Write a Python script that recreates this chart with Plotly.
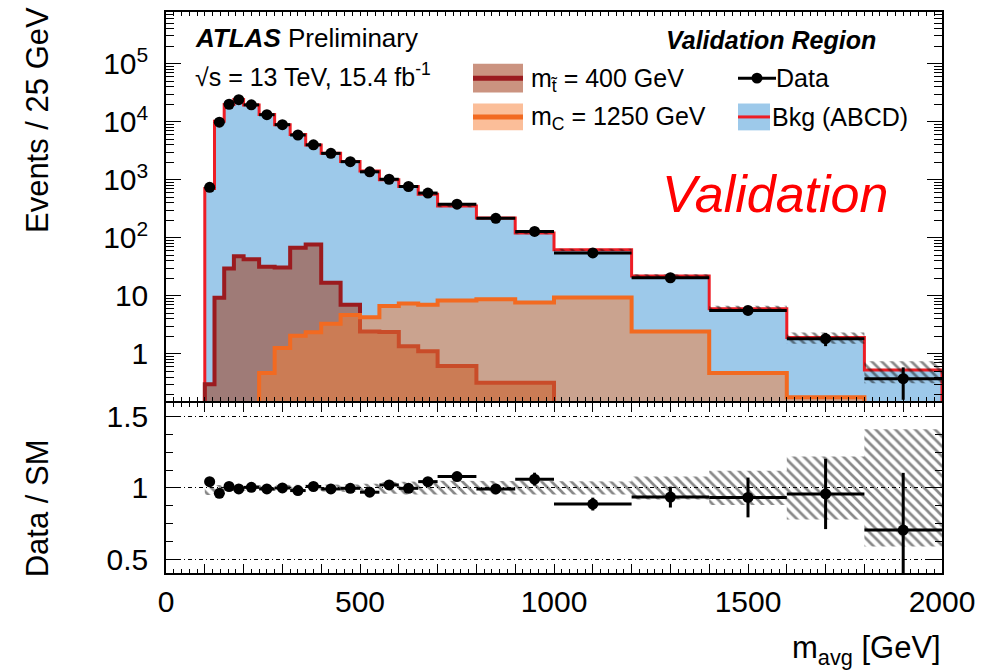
import plotly.graph_objects as go

# ---------------- data ----------------
bin_edges = [100, 125, 150, 175, 200, 240, 280, 320, 360, 400, 450, 500, 550,
             600, 650, 700, 800, 900, 1000, 1200, 1400, 1600, 1800, 2000]
data_vals = [740, 9800, 20000, 24000, 19500, 13200, 8900, 5900, 4000, 2850,
             2050, 1370, 1020, 765, 590, 380, 217, 129, 55, 20.5, 5.6, 1.83, 0.374]
bkg_vals = [709, 10180, 19800, 24170, 19420, 13290, 8900, 6010, 3960, 2870,
            2055, 1412, 999, 767, 565, 352, 218.5, 121.5, 62, 21.9, 6.0, 1.91, 0.53]
ratio_stat_err = [0.03, 0.01, 0.01, 0.01, 0.01, 0.01, 0.01, 0.012, 0.015, 0.015,
                  0.02, 0.02, 0.02, 0.025, 0.03, 0.025, 0.035, 0.045, 0.045,
                  0.073, 0.139, 0.246, 0.40]
bkg_rel_unc = [0.05, 0.02, 0.02, 0.02, 0.02, 0.02, 0.02, 0.02, 0.02, 0.025,
               0.025, 0.03, 0.04, 0.045, 0.05, 0.045, 0.045, 0.05, 0.045,
               0.08, 0.12, 0.22, 0.41]
stop400_vals = [0.30, 9.3, 29.5, 48, 42.7, 31.6, 30.7, 67.5, 77, 16.8, 7.0,
                2.44, 2.38, 1.35, 1.11, 0.62, 0.32, 0.32, 0, 0, 0, 0, 0]
mc1250_vals = [0, 0, 0, 0, 0, 0.47, 1.27, 2.06, 2.35, 3.3, 4.7, 4.3, 6.7, 7.4,
               7.0, 8.3, 8.7, 7.7, 9.4, 2.44, 0.47, 0.18, 0]

x_tick_labels = ["0", "500", "1000", "1500", "2000"]
x_tick_values = [0, 500, 1000, 1500, 2000]
y_tick_values = [1, 10, 100, 1000, 10000, 100000]
y_tick_labels = ["1", "10", "10<sup>2</sup>", "10<sup>3</sup>", "10<sup>4</sup>", "10<sup>5</sup>"]
ratio_tick_values = [0.5, 1, 1.5]
ratio_tick_labels = ["0.5", "1", "1.5"]

# ---------------- geometry helpers (layout only) ----------------
L, R, T, B = 166, 942, 9, 573
FONT = "Liberation Sans, Arial, sans-serif"
FLOOR = 1e-3


def fx(px):
    return (px - L) / (R - L)


def fy(py):
    return (B - py) / (B - T)


n = len(data_vals)
centers = [(bin_edges[i] + bin_edges[i + 1]) / 2 for i in range(n)]
halfw = [(bin_edges[i + 1] - bin_edges[i]) / 2 for i in range(n)]
ratio_vals = [d / b for d, b in zip(data_vals, bkg_vals)]
data_err = [b * e for b, e in zip(bkg_vals, ratio_stat_err)]


def hist_poly(vals):
    xs, ys = [bin_edges[0]], [FLOOR]
    for i, v in enumerate(vals):
        vv = v if v > 0 else FLOOR
        xs += [bin_edges[i], bin_edges[i + 1]]
        ys += [vv, vv]
    xs.append(bin_edges[-1])
    ys.append(FLOOR)
    return xs, ys


def band_poly(lo, hi):
    xs, ys = [], []
    for i in range(n):
        xs += [bin_edges[i], bin_edges[i + 1]]
        ys += [hi[i], hi[i]]
    for i in reversed(range(n)):
        xs += [bin_edges[i + 1], bin_edges[i]]
        ys += [lo[i], lo[i]]
    xs.append(xs[0])
    ys.append(ys[0])
    return xs, ys


BLUE = "#9DC9EA"
RED = "#EE1D25"
STOP_LINE = "#9B1B1F"
STOP_FILL = "rgba(160,59,24,0.55)"
MC_LINE = "#F26A21"
MC_FILL = "rgba(247,125,51,0.5)"
HATCH = dict(shape="\\", fgcolor="#111111", bgcolor="rgba(0,0,0,0)",
             size=7, solidity=0.38, fillmode="overlay")

fig = go.Figure()

# background
xs, ys = hist_poly(bkg_vals)
fig.add_trace(go.Scatter(x=xs, y=ys, mode="lines", fill="toself", fillcolor=BLUE,
                         line=dict(color=RED, width=3), xaxis="x", yaxis="y",
                         showlegend=False, hoverinfo="skip"))
# stop signal
xs, ys = hist_poly(stop400_vals)
fig.add_trace(go.Scatter(x=xs, y=ys, mode="lines", fill="toself", fillcolor=STOP_FILL,
                         line=dict(color=STOP_LINE, width=4), xaxis="x", yaxis="y",
                         showlegend=False, hoverinfo="skip"))
# mC signal
xs, ys = hist_poly(mc1250_vals)
fig.add_trace(go.Scatter(x=xs, y=ys, mode="lines", fill="toself", fillcolor=MC_FILL,
                         line=dict(color=MC_LINE, width=4), xaxis="x", yaxis="y",
                         showlegend=False, hoverinfo="skip"))
# bkg uncertainty hatch (top)
lo = [b * (1 - u) for b, u in zip(bkg_vals, bkg_rel_unc)]
hi = [b * (1 + u) for b, u in zip(bkg_vals, bkg_rel_unc)]
xs, ys = band_poly(lo, hi)
fig.add_trace(go.Scatter(x=xs, y=ys, mode="lines", fill="toself",
                         fillcolor="rgba(0,0,0,0)", fillpattern=HATCH,
                         line=dict(width=0, color="rgba(0,0,0,0)"),
                         xaxis="x", yaxis="y", showlegend=False, hoverinfo="skip"))
# data top
fig.add_trace(go.Scatter(x=centers, y=data_vals, mode="markers",
                         marker=dict(color="black", size=11),
                         error_x=dict(type="data", array=halfw, color="black", thickness=3, width=0),
                         error_y=dict(type="data", array=data_err, color="black", thickness=3, width=0),
                         xaxis="x", yaxis="y", showlegend=False))

# ratio hatch band
lo = [1 - u for u in bkg_rel_unc]
hi = [1 + u for u in bkg_rel_unc]
xs, ys = band_poly(lo, hi)
fig.add_trace(go.Scatter(x=xs, y=ys, mode="lines", fill="toself",
                         fillcolor="rgba(0,0,0,0)", fillpattern=HATCH,
                         line=dict(width=0, color="rgba(0,0,0,0)"),
                         xaxis="x2", yaxis="y2", showlegend=False, hoverinfo="skip"))
# ratio points
fig.add_trace(go.Scatter(x=centers, y=ratio_vals, mode="markers",
                         marker=dict(color="black", size=11),
                         error_x=dict(type="data", array=halfw, color="black", thickness=3, width=0),
                         error_y=dict(type="data", array=ratio_stat_err, color="black", thickness=3, width=0),
                         xaxis="x2", yaxis="y2", showlegend=False))

# ---------------- axes ----------------
x_major = list(range(0, 2001, 100))
x_text = [x_tick_labels[x_tick_values.index(v)] if v in x_tick_values else "" for v in x_major]
axis_common = dict(showline=True, linecolor="black", linewidth=1.5, mirror="allticks",
                   ticks="inside", tickcolor="black", tickwidth=1.2, showgrid=False,
                   zeroline=False, tickfont=dict(family=FONT, size=30, color="black"))

fig.update_layout(
    xaxis=dict(domain=[0, 1], range=[0, 2000], anchor="y", tickmode="array",
               tickvals=x_major, ticktext=["" for _ in x_major], ticklen=9,
               minor=dict(ticks="inside", dtick=20, tick0=0, ticklen=4, tickcolor="black"),
               showticklabels=False, **axis_common),
    yaxis=dict(domain=[fy(400), 1], type="log", range=[-0.81, 5.89], anchor="x",
               tickmode="array", tickvals=y_tick_values, ticktext=y_tick_labels,
               ticklen=15, ticklabelstandoff=10,
               minor=dict(ticks="inside", tickmode="array",
                          tickvals=[k * 10 ** e for e in range(-1, 6) for k in range(2, 10)],
                          ticklen=8, tickcolor="black"),
               **axis_common),
    xaxis2=dict(domain=[0, 1], range=[0, 2000], anchor="y2", matches="x",
                tickmode="array", tickvals=x_major, ticktext=x_text, ticklen=9,
                minor=dict(ticks="inside", dtick=20, tick0=0, ticklen=4, tickcolor="black"),
                ticklabelstandoff=1, **axis_common),
    yaxis2=dict(domain=[0, fy(402)], range=[0.405, 1.595], anchor="x2",
                tickmode="array", tickvals=ratio_tick_values, ticktext=ratio_tick_labels,
                ticklen=14, ticklabelstandoff=10,
                minor=dict(ticks="inside", dtick=0.125, tick0=0.5, ticklen=7, tickcolor="black"),
                **{k: v for k, v in axis_common.items() if k != "showgrid"},
                showgrid=True, gridcolor="black", gridwidth=1, griddash="4px,3px,1px,3px"),
    width=988, height=672,
    margin=dict(l=L, r=988 - R, t=T, b=672 - B),
    paper_bgcolor="white", plot_bgcolor="white",
    showlegend=False,
)

# ---------------- legend (manual) ----------------
shapes = []
ann = []


def rect(x0, y0, x1, y1, color):
    shapes.append(dict(type="rect", xref="paper", yref="paper", x0=fx(x0), x1=fx(x1),
                       y0=fy(y1), y1=fy(y0), fillcolor=color, line=dict(width=0), layer="above"))


def hline(x0, x1, y, color, w):
    shapes.append(dict(type="line", xref="paper", yref="paper", x0=fx(x0), x1=fx(x1),
                       y0=fy(y), y1=fy(y), line=dict(color=color, width=w), layer="above"))


rect(473, 61, 523, 90, STOP_FILL)
hline(473, 523, 75.5, STOP_LINE, 5)
rect(473, 101, 523, 128, MC_FILL)
hline(473, 523, 114.5, MC_LINE, 5)
hline(738, 776, 75.5, "black", 3)
shapes.append(dict(type="circle", xref="paper", yref="paper", x0=fx(751.5), x1=fx(762.5),
                   y0=fy(81), y1=fy(70), fillcolor="black", line=dict(width=0), layer="above"))
rect(738, 101, 770, 128, BLUE)
hline(738, 770, 114.5, RED, 3)


def text(x, y, s, size=25, xanchor="left", yanchor="middle", color="black", angle=0):
    ann.append(dict(x=fx(x), y=fy(y), xref="paper", yref="paper", text=s, showarrow=False,
                    xanchor=xanchor, yanchor=yanchor, textangle=angle,
                    font=dict(family=FONT, size=size, color=color)))


text(529, 77, "m<sub>t\u0303</sub> = 400 GeV")
text(529, 116, "m<sub>C</sub> = 1250 GeV")
text(774, 75, "Data")
text(770, 115, "Bkg (ABCD)")
text(193, 35, "<b><i>ATLAS</i></b> Preliminary", size=26)
text(193, 72, "\u221as = 13 TeV, 15.4 fb<sup>-1</sup>", size=25)
text(878, 37, "<b><i>Validation Region</i></b>", size=25, xanchor="right")
text(660, 192, "<i>Validation</i>", size=52, color="#FF0000")
text(943, 650, "m<sub>avg</sub> [GeV]", size=31, xanchor="right")
text(37, 2, "Events / 25 GeV", size=31, xanchor="center", yanchor="top", angle=-90)
text(37, 508, "Data / SM", size=31, xanchor="center", yanchor="middle", angle=-90)

fig.update_layout(shapes=shapes, annotations=ann)
fig.write_html("out.html")
